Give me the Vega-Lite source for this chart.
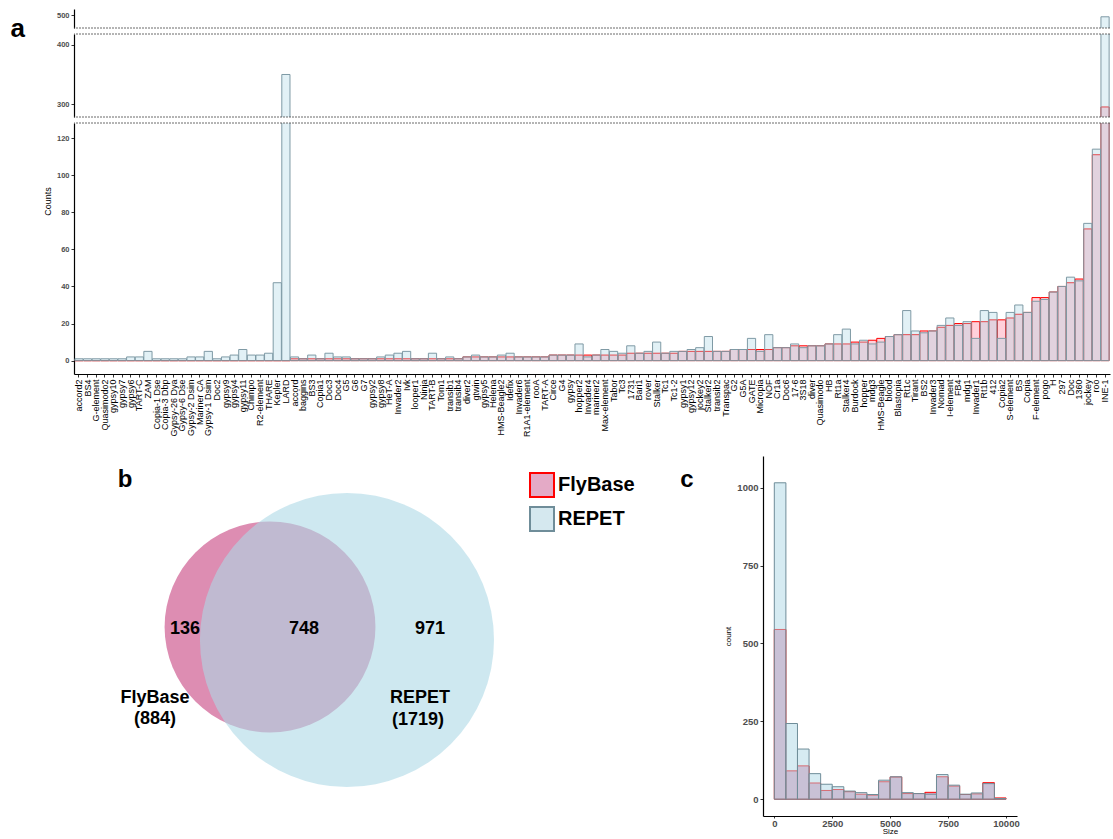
{
  "$schema": "https://vega.github.io/schema/vega-lite/v6.json",
  "background": "white",
  "padding": {"left": 10, "top": 9, "right": 0, "bottom": 0},
  "bounds": "flush",
  "spacing": 6,
  "config": {"font": "Liberation Sans", "view": {"stroke": null}, "axis": {"grid": false}},
  "datasets": {
    "te": [
      {"te":"accord2","fb":0,"rp":1},{"te":"BS4","fb":0,"rp":1},{"te":"G-element","fb":0,"rp":1},{"te":"Quasimodo2","fb":0,"rp":1},
      {"te":"gypsy10","fb":0,"rp":1},{"te":"gypsy7","fb":0,"rp":1},{"te":"gypsy6","fb":0,"rp":2},{"te":"TART-C","fb":0,"rp":2},
      {"te":"ZAM","fb":0,"rp":5},{"te":"Copia-1 Dse","fb":0,"rp":1},{"te":"Copia-3 Dbp","fb":0,"rp":1},{"te":"Gypsy-26 Dya","fb":0,"rp":1},
      {"te":"Gypsy-6 Dse","fb":0,"rp":1},{"te":"Gypsy-2 Dsim","fb":0,"rp":2},{"te":"Mariner CA","fb":0,"rp":2},{"te":"Gypsy-1 Dsim","fb":0,"rp":5},
      {"te":"Doc2","fb":0,"rp":1},{"te":"gypsy9","fb":0,"rp":2},{"te":"gypsy4","fb":0,"rp":3},{"te":"gypsy11","fb":0,"rp":6},
      {"te":"Chimpo","fb":0,"rp":3},{"te":"R2-element","fb":0,"rp":3},{"te":"THARE","fb":0,"rp":4},{"te":"Kepler","fb":0,"rp":42},
      {"te":"LARD","fb":0,"rp":350},{"te":"accord","fb":1,"rp":2},{"te":"baggins","fb":1,"rp":1},{"te":"BS3","fb":1,"rp":3},
      {"te":"Copia1","fb":1,"rp":1},{"te":"Doc3","fb":1,"rp":4},{"te":"Doc4","fb":1,"rp":2},{"te":"G5","fb":1,"rp":2},
      {"te":"G6","fb":1,"rp":1},{"te":"G7","fb":1,"rp":1},{"te":"gypsy2","fb":1,"rp":1},{"te":"gypsy8","fb":1,"rp":2},
      {"te":"HeT-A","fb":1,"rp":3},{"te":"Invader2","fb":1,"rp":4},{"te":"Ivk","fb":1,"rp":5},{"te":"looper1","fb":1,"rp":1},
      {"te":"Ninja","fb":1,"rp":1},{"te":"TART-B","fb":1,"rp":4},{"te":"Tom1","fb":1,"rp":1},{"te":"transib1","fb":1,"rp":2},
      {"te":"transib4","fb":1,"rp":1},{"te":"diver2","fb":2,"rp":2},{"te":"gtwin","fb":2,"rp":3},{"te":"gypsy5","fb":2,"rp":2},
      {"te":"Helena","fb":2,"rp":2},{"te":"HMS-Beagle2","fb":2,"rp":3},{"te":"Idefix","fb":2,"rp":4},{"te":"Invader6","fb":2,"rp":2},
      {"te":"R1A1-element","fb":2,"rp":2},{"te":"rooA","fb":2,"rp":2},{"te":"TART-A","fb":2,"rp":2},{"te":"Circe","fb":3,"rp":3},
      {"te":"G4","fb":3,"rp":3},{"te":"gypsy","fb":3,"rp":3},{"te":"hopper2","fb":3,"rp":9},{"te":"Invader4","fb":3,"rp":2},
      {"te":"mariner2","fb":3,"rp":3},{"te":"Max-element","fb":3,"rp":6},{"te":"Tabor","fb":3,"rp":5},{"te":"Tc3","fb":3,"rp":4},
      {"te":"1731","fb":4,"rp":8},{"te":"Bari1","fb":4,"rp":4},{"te":"rover","fb":4,"rp":5},{"te":"Stalker","fb":4,"rp":10},
      {"te":"Tc1","fb":4,"rp":4},{"te":"Tc1-2","fb":4,"rp":5},{"te":"gypsy1","fb":5,"rp":5},{"te":"gypsy12","fb":5,"rp":6},
      {"te":"jockey2","fb":5,"rp":7},{"te":"Stalker2","fb":5,"rp":13},{"te":"transib2","fb":5,"rp":5},{"te":"Transpac","fb":5,"rp":5},
      {"te":"G2","fb":6,"rp":6},{"te":"G5A","fb":6,"rp":6},{"te":"GATE","fb":6,"rp":12},{"te":"Micropia","fb":6,"rp":5},
      {"te":"NOF","fb":6,"rp":14},{"te":"Cr1a","fb":7,"rp":7},{"te":"Doc6","fb":7,"rp":7},{"te":"17-6","fb":8,"rp":9},
      {"te":"3S18","fb":8,"rp":7},{"te":"diver","fb":8,"rp":8},{"te":"Quasimodo","fb":8,"rp":8},{"te":"HB","fb":9,"rp":9},
      {"te":"Rt1a","fb":9,"rp":14},{"te":"Stalker4","fb":9,"rp":17},{"te":"Burdock","fb":10,"rp":9},{"te":"hopper","fb":10,"rp":11},
      {"te":"mdg3","fb":11,"rp":9},{"te":"HMS-Beagle","fb":12,"rp":10},{"te":"blood","fb":13,"rp":13},{"te":"Blastopia","fb":14,"rp":14},
      {"te":"Rt1c","fb":14,"rp":27},{"te":"Tirant","fb":14,"rp":16},{"te":"BS2","fb":16,"rp":15},{"te":"Invader3","fb":16,"rp":16},
      {"te":"Nomad","fb":18,"rp":19},{"te":"I-element","fb":19,"rp":23},{"te":"FB4","fb":20,"rp":19},{"te":"mdg1","fb":20,"rp":21},
      {"te":"Invader1","fb":21,"rp":12},{"te":"Rt1b","fb":21,"rp":27},{"te":"412","fb":22,"rp":26},{"te":"Copia2","fb":22,"rp":12},
      {"te":"S-element","fb":23,"rp":26},{"te":"BS","fb":25,"rp":30},{"te":"Copia","fb":26,"rp":26},{"te":"F-element","fb":34,"rp":32},
      {"te":"pogo","fb":34,"rp":33},{"te":"H","fb":37,"rp":37},{"te":"297","fb":40,"rp":40},{"te":"Doc","fb":42,"rp":45},
      {"te":"1360","fb":44,"rp":43},{"te":"jockey","fb":71,"rp":74},{"te":"roo","fb":111,"rp":114},{"te":"INE-1","fb":295,"rp":497}
    ],
    "hist": [
      {"start":0,"end":500,"fb":545,"rp":1016},{"start":500,"end":1000,"fb":91,"rp":243},{"start":1000,"end":1500,"fb":107,"rp":161},
      {"start":1500,"end":2000,"fb":52,"rp":82},{"start":2000,"end":2500,"fb":28,"rp":48},{"start":2500,"end":3000,"fb":31,"rp":40},
      {"start":3000,"end":3500,"fb":24,"rp":26},{"start":3500,"end":4000,"fb":16,"rp":21},{"start":4000,"end":4500,"fb":13,"rp":15},
      {"start":4500,"end":5000,"fb":56,"rp":61},{"start":5000,"end":5500,"fb":71,"rp":72},{"start":5500,"end":6000,"fb":18,"rp":21},
      {"start":6000,"end":6500,"fb":18,"rp":18},{"start":6500,"end":7000,"fb":22,"rp":16},{"start":7000,"end":7500,"fb":72,"rp":79},
      {"start":7500,"end":8000,"fb":42,"rp":45},{"start":8000,"end":8500,"fb":15,"rp":16},{"start":8500,"end":9000,"fb":17,"rp":20},
      {"start":9000,"end":9500,"fb":53,"rp":50},{"start":9500,"end":10000,"fb":4,"rp":2}
    ],
    "venn": [
      {"set":"FlyBase","n":884,"cx":34.39,"cy":52.5},
      {"set":"REPET","n":1719,"cx":47.89,"cy":48.89}
    ],
    "vlab": [
      {"label":"136","x":19.47,"y":51.94},{"label":"748","x":40.35,"y":51.94},{"label":"971","x":62.46,"y":51.94},
      {"label":"FlyBase","x":14.21,"y":32.78},{"label":"(884)","x":14.21,"y":26.94},
      {"label":"REPET","x":60.7,"y":32.78},{"label":"(1719)","x":60.35,"y":26.67}
    ],
    "panel": [
      {"label":"b","x":8.95,"y":91.4},{"label":"c","x":107.54,"y":91.4}
    ]
  },
  "vconcat": [
    {
      "width": 1036, "height": 19,
      "layer": [
        {"data": {"name": "te"}, "mark": {"type": "bar", "clip": true, "fill": "#ffd0da", "stroke": "#ff0000", "strokeWidth": 1},
         "encoding": {
           "x": {"field": "te", "type": "nominal", "sort": null, "axis": null, "scale": {"paddingInner": 0.05, "paddingOuter": 0.1}},
           "y": {"field": "fb", "type": "quantitative", "scale": {"domain": [478, 510.2], "nice": false, "zero": false},
                 "axis": {"values": [500], "title": "a", "titleAngle": 0, "titleX": -64, "titleY": 27, "titleAlign": "left", "titleBaseline": "alphabetic", "titleFontSize": 26, "titleFontWeight": "bold", "titleColor": "#000", "labelFontSize": 7.5, "labelFontWeight": "bold", "labelColor": "#4d4d4d", "tickSize": 3, "tickColor": "#333", "domainColor": "#000", "domainWidth": 1.2, "labelPadding": 2}}}},
        {"data": {"name": "te"}, "mark": {"type": "bar", "clip": true, "fill": "#add8e6", "fillOpacity": 0.35, "stroke": "#7f9aa5", "strokeWidth": 1},
         "encoding": {
           "x": {"field": "te", "type": "nominal", "sort": null, "axis": null, "scale": {"paddingInner": 0.05, "paddingOuter": 0.1}},
           "y": {"field": "rp", "type": "quantitative",
                 "axis": {"values": [500], "title": "a", "titleAngle": 0, "titleX": -64, "titleY": 27, "titleAlign": "left", "titleBaseline": "alphabetic", "titleFontSize": 26, "titleFontWeight": "bold", "titleColor": "#000", "labelFontSize": 7.5, "labelFontWeight": "bold", "labelColor": "#4d4d4d", "tickSize": 3, "tickColor": "#333", "domainColor": "#000", "domainWidth": 1.2, "labelPadding": 2}}}},
        {"data": {"values": [{}]}, "mark": {"type": "rule", "color": "#444", "strokeDash": [2, 1], "strokeWidth": 0.8},
         "encoding": {"y": {"datum": 478}}}
      ]
    },
    {
      "width": 1036, "height": 83,
      "layer": [
        {"data": {"name": "te"}, "mark": {"type": "bar", "clip": true, "fill": "#ffd0da", "stroke": "#ff0000", "strokeWidth": 1},
         "encoding": {
           "x": {"field": "te", "type": "nominal", "sort": null, "axis": null, "scale": {"paddingInner": 0.05, "paddingOuter": 0.1}},
           "y": {"field": "fb", "type": "quantitative", "scale": {"domain": [278, 418.6], "nice": false, "zero": false},
                 "axis": {"values": [300, 400], "title": null, "labelFontSize": 7.5, "labelFontWeight": "bold", "labelColor": "#4d4d4d", "tickSize": 3, "tickColor": "#333", "domainColor": "#000", "domainWidth": 1.2, "labelPadding": 2}}}},
        {"data": {"name": "te"}, "mark": {"type": "bar", "clip": true, "fill": "#add8e6", "fillOpacity": 0.35, "stroke": "#7f9aa5", "strokeWidth": 1},
         "encoding": {
           "x": {"field": "te", "type": "nominal", "sort": null, "axis": null, "scale": {"paddingInner": 0.05, "paddingOuter": 0.1}},
           "y": {"field": "rp", "type": "quantitative",
                 "axis": {"values": [300, 400], "title": null, "labelFontSize": 7.5, "labelFontWeight": "bold", "labelColor": "#4d4d4d", "tickSize": 3, "tickColor": "#333", "domainColor": "#000", "domainWidth": 1.2, "labelPadding": 2}}}},
        {"data": {"values": [{}]}, "mark": {"type": "rule", "color": "#444", "strokeDash": [2, 1], "strokeWidth": 0.8},
         "encoding": {"y": {"datum": 278}}},
        {"data": {"values": [{}]}, "mark": {"type": "rule", "color": "#444", "strokeDash": [2, 1], "strokeWidth": 0.8},
         "encoding": {"y": {"datum": 418.6}}}
      ]
    },
    {
      "width": 1036, "height": 251,
      "layer": [
        {"data": {"name": "te"}, "mark": {"type": "bar", "clip": true, "fill": "#ffd0da", "stroke": "#ff0000", "strokeWidth": 1},
         "encoding": {
           "x": {"field": "te", "type": "nominal", "sort": null, "scale": {"paddingInner": 0.05, "paddingOuter": 0.1},
                 "axis": {"title": null, "labelAngle": -90, "labelAlign": "right", "labelBaseline": "middle", "labelFontSize": 9, "labelColor": "#000", "labelPadding": 2, "tickSize": 3, "tickColor": "#333", "domainColor": "#000", "domainWidth": 1.2, "labelOverlap": false}},
           "y": {"field": "fb", "type": "quantitative", "scale": {"domain": [-7.2, 128.1], "nice": false, "zero": false},
                 "axis": {"values": [0, 10, 20, 30, 40, 50, 60, 70, 80, 90, 100, 110, 120], "title": "Counts", "titleFontSize": 9, "titleFontWeight": "normal", "titleColor": "#000", "titleX": -22, "titleY": 78, "titleAlign": "center", "labelFontSize": 7.5, "labelFontWeight": "bold", "labelColor": "#4d4d4d", "tickSize": 3, "tickColor": "#333", "domainColor": "#000", "domainWidth": 1.2, "labelPadding": 2}}}},
        {"data": {"name": "te"}, "mark": {"type": "bar", "clip": true, "fill": "#add8e6", "fillOpacity": 0.35, "stroke": "#7f9aa5", "strokeWidth": 1},
         "encoding": {
           "x": {"field": "te", "type": "nominal", "sort": null, "scale": {"paddingInner": 0.05, "paddingOuter": 0.1},
                 "axis": {"title": null, "labelAngle": -90, "labelAlign": "right", "labelBaseline": "middle", "labelFontSize": 9, "labelColor": "#000", "labelPadding": 2, "tickSize": 3, "tickColor": "#333", "domainColor": "#000", "domainWidth": 1.2, "labelOverlap": false}},
           "y": {"field": "rp", "type": "quantitative",
                 "axis": {"values": [0, 10, 20, 30, 40, 50, 60, 70, 80, 90, 100, 110, 120], "title": "Counts", "titleFontSize": 9, "titleFontWeight": "normal", "titleColor": "#000", "titleX": -22, "titleY": 78, "titleAlign": "center", "labelFontSize": 7.5, "labelFontWeight": "bold", "labelColor": "#4d4d4d", "tickSize": 3, "tickColor": "#333", "domainColor": "#000", "domainWidth": 1.2, "labelPadding": 2}}}},
        {"data": {"values": [{}]}, "mark": {"type": "rule", "color": "#444", "strokeDash": [2, 1], "strokeWidth": 0.8},
         "encoding": {"y": {"datum": 128.1}}}
      ]
    },
    {
      "width": 943, "height": 436,
      "resolve": {"scale": {"x": "independent", "y": "independent"}, "axis": {"x": "independent", "y": "independent"}},
      "layer": [
        {
          "layer": [
            {"data": {"name": "venn"}, "transform": [{"filter": "datum.set === 'FlyBase'"}],
             "mark": {"type": "point", "shape": "circle", "filled": true, "opacity": 1, "fill": "#dd8db2", "strokeWidth": 0},
             "encoding": {
               "x": {"field": "cx", "type": "quantitative", "scale": {"domain": [0, 100], "range": [0, 570], "nice": false, "zero": false}, "axis": null},
               "y": {"field": "cy", "type": "quantitative", "scale": {"domain": [0, 100], "range": [436, 76], "nice": false, "zero": false}, "axis": null},
               "size": {"field": "n", "type": "quantitative", "scale": {"domain": [0, 1719], "range": [0, 86466]}, "legend": null}}},
            {"data": {"name": "venn"}, "transform": [{"filter": "datum.set === 'REPET'"}],
             "mark": {"type": "point", "shape": "circle", "filled": true, "opacity": 0.6, "fill": "#add8e6", "strokeWidth": 0},
             "encoding": {
               "x": {"field": "cx", "type": "quantitative", "axis": null},
               "y": {"field": "cy", "type": "quantitative", "axis": null},
               "size": {"field": "n", "type": "quantitative", "legend": null}}},
            {"data": {"name": "vlab"},
             "mark": {"type": "text", "fontSize": 18, "fontWeight": "bold", "color": "#000", "baseline": "middle"},
             "encoding": {
               "x": {"field": "x", "type": "quantitative", "axis": null},
               "y": {"field": "y", "type": "quantitative", "axis": null},
               "text": {"field": "label"}}},
            {"data": {"name": "panel"},
             "mark": {"type": "text", "fontSize": 24, "fontWeight": "bold", "color": "#000", "baseline": "alphabetic"},
             "encoding": {
               "x": {"field": "x", "type": "quantitative", "axis": null},
               "y": {"field": "y", "type": "quantitative", "axis": null},
               "text": {"field": "label"}}}
          ]
        },
        {
          "data": {"name": "hist"},
          "layer": [
            {"mark": {"type": "bar", "fill": "#c9558d", "fillOpacity": 0.5, "stroke": "#ff0000", "strokeWidth": 1},
             "encoding": {
               "x": {"field": "start", "type": "quantitative", "scale": {"domain": [-488, 10475], "range": [689, 943], "nice": false, "zero": false},
                     "axis": {"values": [0, 2500, 5000, 7500, 10000], "format": "d", "title": "Size", "titleFontSize": 8, "titleFontWeight": "normal", "titleColor": "#000", "titlePadding": 0, "labelFontSize": 9.5, "labelFontWeight": "bold", "labelColor": "#4d4d4d", "labelPadding": 0, "tickSize": 2, "tickColor": "#333", "domainColor": "#000", "domainWidth": 1.2}},
               "x2": {"field": "end"},
               "y": {"field": "fb", "type": "quantitative", "scale": {"domain": [-54, 1102], "range": [436, 76], "nice": false, "zero": false},
                     "axis": {"values": [0, 250, 500, 750, 1000], "format": "d", "offset": -689, "title": "count", "titleFontSize": 8, "titleFontWeight": "normal", "titleColor": "#000", "titlePadding": 4, "labelFontSize": 9.5, "labelFontWeight": "bold", "labelColor": "#4d4d4d", "labelPadding": 2, "tickSize": 3, "tickColor": "#333", "domainColor": "#000", "domainWidth": 1.2}},
               "y2": {"datum": 0}}},
            {"mark": {"type": "bar", "fill": "#add8e6", "fillOpacity": 0.5, "stroke": "#6f8d99", "strokeWidth": 1},
             "encoding": {
               "x": {"field": "start", "type": "quantitative"},
               "x2": {"field": "end"},
               "y": {"field": "rp", "type": "quantitative"},
               "y2": {"datum": 0}}},
            {"data": {"values": []},
             "mark": {"type": "point", "shape": "square", "filled": true, "opacity": 1, "strokeWidth": 2},
             "encoding": {
               "fill": {"field": "set", "type": "nominal", "scale": {"domain": ["FlyBase", "REPET"], "range": ["#e4aac6", "#d5e8ef"]},
                        "legend": {"title": null, "orient": "none", "legendX": 455, "legendY": 463, "symbolType": "square", "symbolSize": 576, "symbolStrokeWidth": 2, "labelFontSize": 20, "labelFontWeight": "bold", "labelColor": "#000", "labelOffset": 3, "rowPadding": 2}},
               "stroke": {"field": "set", "type": "nominal", "scale": {"domain": ["FlyBase", "REPET"], "range": ["#ff0000", "#6f8d99"]},
                        "legend": {"title": null, "orient": "none", "legendX": 455, "legendY": 463, "symbolType": "square", "symbolSize": 576, "symbolStrokeWidth": 2, "labelFontSize": 20, "labelFontWeight": "bold", "labelColor": "#000", "labelOffset": 3, "rowPadding": 2}}}}
          ]
        }
      ]
    }
  ]
}
